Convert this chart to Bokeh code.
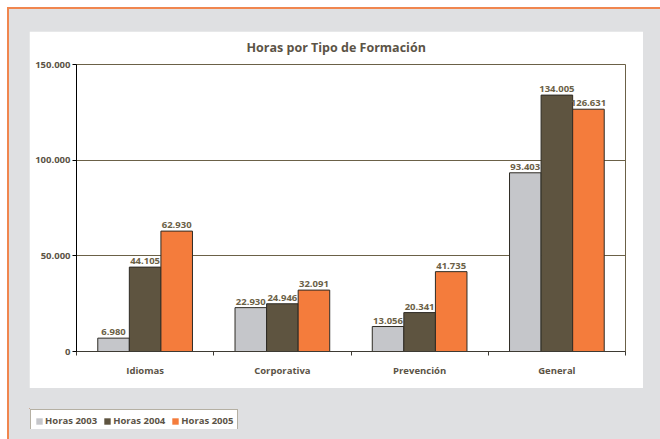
from bokeh.plotting import figure
from bokeh.models import (Range1d, FixedTicker, Legend, LegendItem,
                          ColumnDataSource, LabelSet)
from bokeh.layouts import column
from bokeh.embed import file_html
from bokeh.resources import INLINE
from bokeh.core.properties import value

# ---- data ----
categories = ["Idiomas", "Corporativa", "Prevención", "General"]
series_names = ["Horas 2003", "Horas 2004", "Horas 2005"]
horas_2003 = [6980, 22930, 13056, 93403]
horas_2004 = [44105, 24946, 20341, 134005]
horas_2005 = [62930, 32091, 41735, 126631]
y_ticks = [0, 50000, 100000, 150000]
y_tick_labels = ["0", "50.000", "100.000", "150.000"]
title_text = "Horas por Tipo de Formación"

# ---- style ----
FONT = "Open Sans"
TXT = "#5b5346"
GRID = "#6b6147"
GRAY_BG = "#dfe0e2"
colors = ["#c5c6ca", "#5e5440", "#f47c3c"]
offsets = [-0.23, 0.0, 0.23]
BAR_W = 0.23
SMALL = "9.5px"

series = [horas_2003, horas_2004, horas_2005]
centers = [i + 0.5 for i in range(len(categories))]

# ---- main chart (white panel) ----
p = figure(width=614, height=357, output_backend="svg", toolbar_location=None,
           x_range=Range1d(0, len(categories)), y_range=Range1d(0, 150000),
           min_border_left=47, min_border_right=18, min_border_top=33,
           min_border_bottom=37, title=title_text)
p.border_fill_color = "white"
p.background_fill_color = "white"
p.outline_line_color = GRID
p.outline_line_width = 1

p.title.align = "left"
p.title.offset = 170
p.title.vertical_align = "top"
p.title.standoff = 14
p.title.text_font = FONT
p.title.text_font_style = "bold"
p.title.text_font_size = "12.5px"
p.title.text_color = TXT

for j, vals in enumerate(series):
    xs = [c + offsets[j] for c in centers]
    src = ColumnDataSource(dict(x=xs, top=vals,
                                lbl=[f"{v:,}".replace(",", ".") for v in vals]))
    p.vbar(x="x", top="top", width=BAR_W, bottom=0, source=src,
           fill_color=colors[j], line_color="#2e2b24", line_width=1)
    p.add_layout(LabelSet(x="x", y="top", text="lbl", source=src, y_offset=3,
                          text_align="center", text_baseline="bottom",
                          text_font=value(FONT), text_font_style="bold",
                          text_font_size=SMALL, text_color=GRID))

p.xgrid.visible = False
p.ygrid.ticker = FixedTicker(ticks=y_ticks)
p.ygrid.grid_line_color = GRID
p.ygrid.grid_line_width = 1

p.yaxis.ticker = FixedTicker(ticks=y_ticks)
p.yaxis.major_label_overrides = {t: l for t, l in zip(y_ticks, y_tick_labels)}
p.yaxis.axis_line_color = "black"
p.yaxis.major_tick_line_color = "black"
p.yaxis.major_tick_in = 0
p.yaxis.major_tick_out = 4
p.yaxis.minor_tick_line_color = None
p.yaxis.major_label_standoff = 2
p.yaxis.major_label_text_font = FONT
p.yaxis.major_label_text_font_style = "bold"
p.yaxis.major_label_text_font_size = SMALL
p.yaxis.major_label_text_color = TXT

p.xaxis.ticker = FixedTicker(ticks=centers,
                             minor_ticks=list(range(len(categories) + 1)))
p.xaxis.major_label_overrides = {c: n for c, n in zip(centers, categories)}
p.xaxis.axis_line_color = "#3d3a33"
p.xaxis.major_tick_line_color = None
p.xaxis.minor_tick_line_color = "#3d3a33"
p.xaxis.minor_tick_in = 0
p.xaxis.minor_tick_out = 4
p.xaxis.major_label_standoff = 6
p.xaxis.major_label_text_font = FONT
p.xaxis.major_label_text_font_style = "bold"
p.xaxis.major_label_text_font_size = SMALL
p.xaxis.major_label_text_color = TXT

# ---- legend box (separate small figure, glyphs kept out of view) ----
# its frame gets aligned with the main frame (47px in), so shift it back
lf = figure(width=310, height=21, output_backend="svg", toolbar_location=None,
            x_range=Range1d(100, 101), y_range=Range1d(-10, -9),
            min_border=0, x_axis_location=None, y_axis_location=None,
            styles={"margin-left": "-47px"})
lf.grid.visible = False
lf.border_fill_alpha = 0
lf.background_fill_alpha = 0
lf.outline_line_color = None
items = []
for j, (name, vals) in enumerate(zip(series_names, series)):
    r = lf.vbar(x=centers, top=vals, width=BAR_W, fill_color=colors[j],
                line_color=None)
    items.append(LegendItem(label=name, renderers=[r]))
legend = Legend(items=items, orientation="horizontal", location="top_left",
                glyph_width=8, glyph_height=8, label_height=11,
                label_standoff=2, spacing=6, padding=4, margin=1,
                label_text_font=FONT, label_text_font_style="bold",
                label_text_font_size=SMALL, label_text_color=TXT,
                border_line_color=GRID, border_line_width=1.5,
                background_fill_color="white", background_fill_alpha=1)
lf.add_layout(legend)

root = column(p, lf, spacing=20, styles={
    "background-color": GRAY_BG,
    "border-top": "2px solid #f0864f",
    "border-left": "2px solid #f0864f",
    "padding": "22px 0px 0px 20px",
    "margin": "7px 0px 0px 7px",
    "box-sizing": "border-box",
    "width": "653px",
    "height": "432px",
})

open("out.html", "w").write(file_html(root, INLINE))
